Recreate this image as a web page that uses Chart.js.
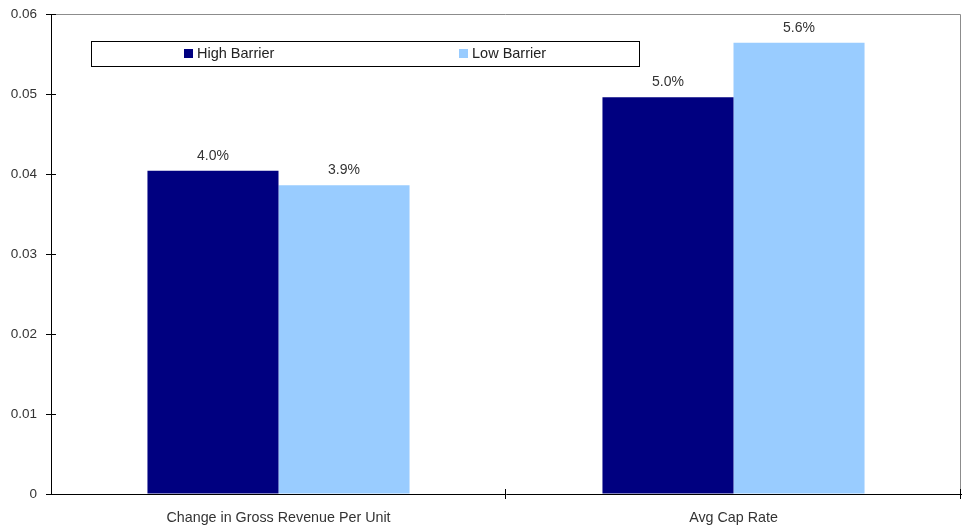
<!DOCTYPE html>
<html>
<head>
<meta charset="utf-8">
<script src="https://cdn.jsdelivr.net/npm/chart.js@4"></script>
<style>
  html, body { margin: 0; padding: 0; background: #fff; }
  #wrap { width: 962px; height: 529px; }
</style>
</head>
<body>
<div id="wrap"><canvas id="barChart"></canvas></div>
<script>
// Data
const categories = ["Change in Gross Revenue Per Unit", "Avg Cap Rate"];
const highBarrier = [0.0404, 0.0496];
const lowBarrier = [0.0386, 0.0564];
const yTicks = [0, 0.01, 0.02, 0.03, 0.04, 0.05, 0.06];

const FONT = "'Liberation Sans', Arial, sans-serif";

// percent labels above each bar
const valueLabels = {
  id: "valueLabels",
  afterDatasetsDraw(chart) {
    const ctx = chart.ctx;
    ctx.save();
    ctx.font = "14px " + FONT;
    ctx.fillStyle = "#333";
    ctx.textAlign = "center";
    ctx.textBaseline = "bottom";
    chart.data.datasets.forEach((ds, i) => {
      chart.getDatasetMeta(i).data.forEach((bar, j) => {
        ctx.fillText((ds.data[j] * 100).toFixed(1) + "%", bar.x, bar.y - 8);
      });
    });
    ctx.restore();
  },
};

// gray top/right frame, crossing tick marks and the boxed legend
const frameAndLegend = {
  id: "frameAndLegend",
  afterDraw(chart) {
    const ctx = chart.ctx;
    const a = chart.chartArea;
    const ys = chart.scales.y;
    ctx.save();
    ctx.strokeStyle = "#8c8c8c";
    ctx.lineWidth = 1;
    ctx.beginPath();
    ctx.moveTo(a.left, a.top + 0.5);
    ctx.lineTo(a.right - 0.5, a.top + 0.5);
    ctx.lineTo(a.right - 0.5, a.bottom);
    ctx.stroke();

    // tick marks that cross the axes
    ctx.strokeStyle = "#000";
    ctx.beginPath();
    yTicks.forEach((v) => {
      const y = Math.round(ys.getPixelForValue(v)) + 0.5;
      ctx.moveTo(a.left - 5, y);
      ctx.lineTo(a.left + 5, y);
    });
    const step = (a.right - a.left) / categories.length;
    for (let i = 1; i <= categories.length; i++) {
      const x = Math.round(a.left + i * step) - 0.5;
      ctx.moveTo(x, a.bottom - 5);
      ctx.lineTo(x, a.bottom + 5);
    }
    ctx.stroke();

    // legend box
    ctx.strokeRect(91.5, 41.5, 548, 25);
    const itemX = [184, 459];
    ctx.font = "14.5px " + FONT;
    ctx.textBaseline = "middle";
    ctx.textAlign = "left";
    chart.data.datasets.forEach((ds, i) => {
      ctx.fillStyle = ds.backgroundColor;
      ctx.fillRect(itemX[i], 49, 9, 9);
      ctx.fillStyle = "#222";
      ctx.fillText(ds.label, itemX[i] + 13, 54);
    });
    ctx.restore();
  },
};

new Chart(document.getElementById("barChart"), {
  type: "bar",
  data: {
    labels: categories,
    datasets: [
      {
        label: "High Barrier",
        data: highBarrier,
        backgroundColor: "#000080",
        categoryPercentage: 0.576,
        barPercentage: 1.0,
      },
      {
        label: "Low Barrier",
        data: lowBarrier,
        backgroundColor: "#99CCFF",
        categoryPercentage: 0.576,
        barPercentage: 1.0,
      },
    ],
  },
  options: {
    responsive: true,
    maintainAspectRatio: false,
    animation: false,
    layout: { padding: { top: 14, right: 1, left: 0, bottom: 0 } },
    plugins: {
      legend: { display: false },
      tooltip: { enabled: false },
    },
    scales: {
      x: {
        border: { color: "#000", width: 1 },
        grid: { drawOnChartArea: false, drawTicks: false },
        ticks: {
          color: "#333",
          font: { family: FONT, size: 14.3 },
          padding: 15,
          maxRotation: 0,
        },
        afterFit(scale) {
          scale.height = 35;
        },
      },
      y: {
        min: 0,
        max: 0.06,
        border: { color: "#000", width: 1 },
        grid: {
          drawOnChartArea: false,
          drawTicks: true,
          tickLength: 13,
          tickColor: "rgba(0,0,0,0)",
        },
        afterBuildTicks(scale) {
          scale.ticks = yTicks.map((v) => ({ value: v }));
        },
        ticks: {
          color: "#333",
          font: { family: FONT, size: 13.5 },
          padding: 1,
          callback: function (value) {
            return value === 0 ? "0" : value.toFixed(2);
          },
        },
        afterFit(scale) {
          scale.width = 51;
        },
      },
    },
  },
  plugins: [valueLabels, frameAndLegend],
});
</script>
</body>
</html>
